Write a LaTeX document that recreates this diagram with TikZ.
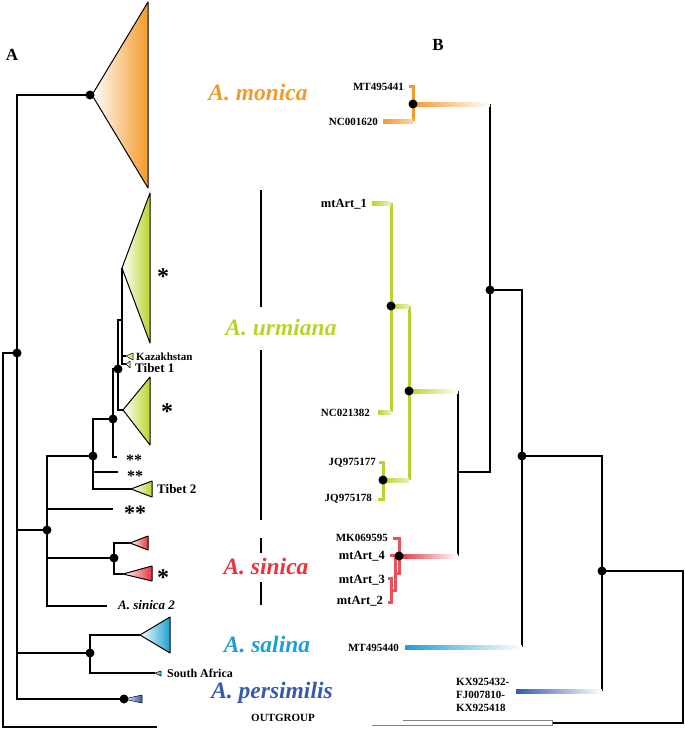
\documentclass[tikz,border=0pt]{standalone}
\usepackage{fontspec}
\setmainfont{Liberation Serif}
\usetikzlibrary{calc}

\definecolor{cmon}{RGB}{243,154,43}
\definecolor{curm}{RGB}{184,212,44}
\definecolor{csin}{RGB}{232,50,60}
\definecolor{csal}{RGB}{30,160,210}
\definecolor{cper}{RGB}{55,90,175}

\tikzset{
  br/.style={line width=1.8pt},
  clade/.style={draw=black, line width=1pt, line join=round, left color=white},
  tip/.style={line width=3pt},
  sp/.style={font=\bfseries\itshape\fontsize{23.5}{25}\selectfont},
  acc/.style={anchor=east, inner sep=0pt, font=\bfseries\fontsize{11}{13}\selectfont},
  mta/.style={anchor=east, inner sep=0pt, font=\bfseries\fontsize{12.5}{14}\selectfont},
  lab/.style={anchor=west, inner sep=0pt, font=\bfseries\fontsize{12}{14}\selectfont},
  star/.style={anchor=base, inner sep=0pt, font=\bfseries\fontsize{24}{26}\selectfont},
  bar/.style={line width=2.5pt}
}
\newcommand{\tdot}[1]{\fill (#1) circle (4.5pt);}
\newcommand{\gbar}[4]{\shade[left color=#1, right color=#2] ($(#3)+(0,-2)$) rectangle ($(#4)+(0,2)$);}

\begin{document}
\begin{tikzpicture}[x=1pt, y=-1pt]
  \useasboundingbox (0,0) rectangle (685,732);

  \node[font=\bfseries\fontsize{17}{19}\selectfont] (la) at (12,55) {A};
  \node[font=\bfseries\fontsize{17}{19}\selectfont] (lb) at (438,45) {B};

  % tree A
  \coordinate (r0) at (3,353);
  \coordinate (r) at (17,353);
  \coordinate (og) at (157,727);
  \coordinate (mon) at (90,95);
  \coordinate (us) at (47,530);
  \coordinate (u1) at (93,456);
  \coordinate (u2) at (113,419);
  \coordinate (u3) at (118,369);
  \coordinate (u4) at (122,320);
  \coordinate (ua) at (122,268);
  \coordinate (ub) at (123,410);
  \coordinate (kaz) at (126,356);
  \coordinate (tb1) at (126,364);
  \coordinate (ss1) at (117,457);
  \coordinate (ss2) at (118,472);
  \coordinate (tb2) at (131,489);
  \coordinate (ss3) at (113,509);
  \coordinate (sin) at (114,558);
  \coordinate (sa) at (130,543);
  \coordinate (sb) at (123,574);
  \coordinate (sin2) at (107,606);
  \coordinate (sal) at (90,653);
  \coordinate (salt) at (140,635);
  \coordinate (safr) at (155,673);
  \coordinate (per) at (124,699);

  \draw[br] (r) -- (r0) |- (og);
  \draw[br] (mon) -| (r) |- (per);
  \draw[br] (us) -| (r);
  \draw[br] (sal) -| (r);
  \draw[br] (u1) -| (us) |- (sin2);
  \draw[br] (ss3) -| (us);
  \draw[br] (sin) -| (us);
  \draw[br] (sa) -| (sin) |- (sb);
  \draw[br] (u2) -| (u1) |- (tb2);
  \draw[br] (ss2) -| (u1);
  \draw[br] (u3) -| (u2) |- (ss1);
  \draw[br] (u4) -| (u3) |- (ub);
  \draw[br] (ua) |- (kaz);
  \draw[br] (u4) |- (tb1);
  \draw[br] (salt) -| (sal) |- (safr);

  \draw[clade, right color=cmon] (92,95) -- (148,2) -- (148,188) -- cycle;
  \draw[clade, right color=curm] (ua) -- (150,193) -- (150,343) -- cycle;
  \draw[clade, right color=curm] (ub) -- (150,377) -- (150,445) -- cycle;
  \draw[clade, line width=0.5pt, right color=curm] (kaz) -- (133,353) -- (133,360) -- cycle;
  \draw[clade, line width=0.5pt, right color=curm] (tb1) -- (130,361) -- (130,368) -- cycle;
  \draw[clade, right color=curm] (tb2) -- (152,481) -- (152,497) -- cycle;
  \draw[clade, right color=csin] (sa) -- (148,536) -- (148,550) -- cycle;
  \draw[clade, right color=csin] (sb) -- (152,566) -- (152,581) -- cycle;
  \draw[clade, right color=csal] (salt) -- (170,617) -- (170,653) -- cycle;
  \draw[clade, line width=0.5pt, right color=csal] (safr) -- (161,671) -- (161,676) -- cycle;
  \draw[clade, line width=0.5pt, right color=cper] (per) -- (142,695) -- (142,703) -- cycle;

  \foreach \p in {mon,r,us,u1,u2,u3,sin,sal,per} {\tdot{\p}}

  \node[star] (st1) at (163,284) {*};
  \node[star] (st2) at (167,419) {*};
  \node[star] (st3) at (163,585) {*};
  \node[star, font=\bfseries\fontsize{16}{17}\selectfont] (st4) at (134,465) {**};
  \node[star, font=\bfseries\fontsize{16}{17}\selectfont] (st5) at (135,481) {**};
  \node[star, font=\bfseries\fontsize{22}{24}\selectfont] (st6) at (135,520) {**};

  \node[lab, font=\bfseries\fontsize{11}{13}\selectfont] (lkaz) at (136,357) {Kazakhstan};
  \node[lab, font=\bfseries\fontsize{13}{15}\selectfont] (ltb1) at (135,368) {Tibet 1};
  \node[lab, font=\bfseries\fontsize{13}{15}\selectfont] (ltb2) at (157,489) {Tibet 2};
  \node[lab, font=\bfseries\itshape\fontsize{13}{15}\selectfont] (lsin2) at (118,605) {A. sinica 2};
  \node[lab] (lsafr) at (167,673) {South Africa};
  \node[font=\bfseries\fontsize{11}{13}\selectfont] (log) at (283,718) {OUTGROUP};

  % species names
  \node[sp, text=cmon] (nmon) at (258,93) {A. monica};
  \node[sp, text=curm] (nurm) at (281,328) {A. urmiana};
  \node[sp, text=csin] (nsin) at (266,567) {A. sinica};
  \node[sp, text=csal] (nsal) at (267,645) {A. salina};
  \node[sp, text=cper] (nper) at (272,693) {A. persimilis};

  \draw[bar] (261,190) -- (261,307);
  \draw[bar] (261,350) -- (261,520);
  \draw[bar] (261,538) -- (261,553);
  \draw[bar] (261,582) -- (261,605);

  % tree B
  \coordinate (bm) at (413,104);
  \coordinate (bmo) at (490,104);
  \coordinate (m41) at (409,86);
  \coordinate (m20) at (383,121);
  \coordinate (m20e) at (413,121);
  \coordinate (g1) at (391,306);
  \coordinate (g2) at (409,391);
  \coordinate (g3) at (383,480);
  \coordinate (ga) at (372,203);
  \coordinate (gat) at (391,203);
  \coordinate (gb) at (378,412);
  \coordinate (gbt) at (391,412);
  \coordinate (g1e) at (409,306);
  \coordinate (g3e) at (409,480);
  \coordinate (gc) at (379,462);
  \coordinate (gd) at (378,499);
  \coordinate (bue) at (458,391);
  \coordinate (bu) at (458,472);
  \coordinate (bse) at (458,556);
  \coordinate (rs) at (399,556);
  \coordinate (ra) at (393,538);
  \coordinate (rb) at (395,573);
  \coordinate (rc) at (390,555);
  \coordinate (rc2) at (395,555);
  \coordinate (rd2) at (395,590);
  \coordinate (rd) at (391,590);
  \coordinate (re) at (388,578);
  \coordinate (rf) at (388,602);
  \coordinate (b1) at (490,290);
  \coordinate (b2) at (522,456);
  \coordinate (b3) at (602,571);
  \coordinate (bsa) at (405,647);
  \coordinate (bsal) at (522,647);
  \coordinate (bp) at (516,691);
  \coordinate (bper) at (602,691);
  \coordinate (bo) at (683,723);
  \coordinate (boe) at (552,723);

  \draw[br] (bmo) |- (bu);
  \draw[br] (bue) -- (bse);
  \draw[br] (b1) -| (bsal);
  \draw[br] (b2) -| (bper);
  \draw[br] (b3) -| (bo) -- (boe);
  \draw[gray, line width=0.6pt] (403,720) -- (552,720) -- (552,725) -- (372,725);

  \draw[tip, cmon] (m41) -| (m20e);
  \gbar{cmon}{cmon!40}{m20}{m20e}
  \gbar{cmon}{white}{bm}{bmo}

  \draw[tip, curm] (gat) -- (gbt);
  \draw[tip, curm] (g1e) -- (g3e);
  \draw[tip, curm] (gc) -| (g3) |- (gd);
  \gbar{curm}{curm!30}{ga}{gat}
  \gbar{curm}{curm!30}{gb}{gbt}
  \gbar{curm}{curm!30}{g1}{g1e}
  \gbar{curm}{curm!30}{g3}{g3e}
  \gbar{curm}{white}{g2}{bue}

  \draw[tip, csin!85] (ra) -| (rs) |- (rb);
  \draw[tip, csin!85] (rc) -- (rc2) -- (rd2) -- (rd);
  \draw[tip, csin!85] (re) -| (rd) |- (rf);
  \gbar{csin}{white}{rs}{bse}

  \gbar{csal}{white}{bsa}{bsal}
  \gbar{cper}{white}{bp}{bper}

  \foreach \p in {bm,g1,g2,g3,rs,b1,b2,b3} {\tdot{\p}}

  \node[acc] (lm41) at (404,87) {MT495441};
  \node[acc] (lm20) at (378,122) {NC001620};
  \node[mta] (la1) at (367,204) {mtArt\_1};
  \node[acc] (lnc) at (370,413) {NC021382};
  \node[acc] (ljq7) at (376,463) {JQ975177};
  \node[acc] (ljq8) at (372,499) {JQ975178};
  \node[acc] (lmk) at (388,538) {MK069595};
  \node[mta] (la4) at (385,556) {mtArt\_4};
  \node[mta] (la3) at (385,580) {mtArt\_3};
  \node[mta] (la2) at (383,601) {mtArt\_2};
  \node[acc] (lm40) at (399,648) {MT495440};
  \node[anchor=west, align=left, inner sep=0pt, font=\bfseries\fontsize{11}{13}\selectfont] (lkx) at (456,695) {KX925432-\\FJ007810-\\KX925418};
\end{tikzpicture}
\end{document}
